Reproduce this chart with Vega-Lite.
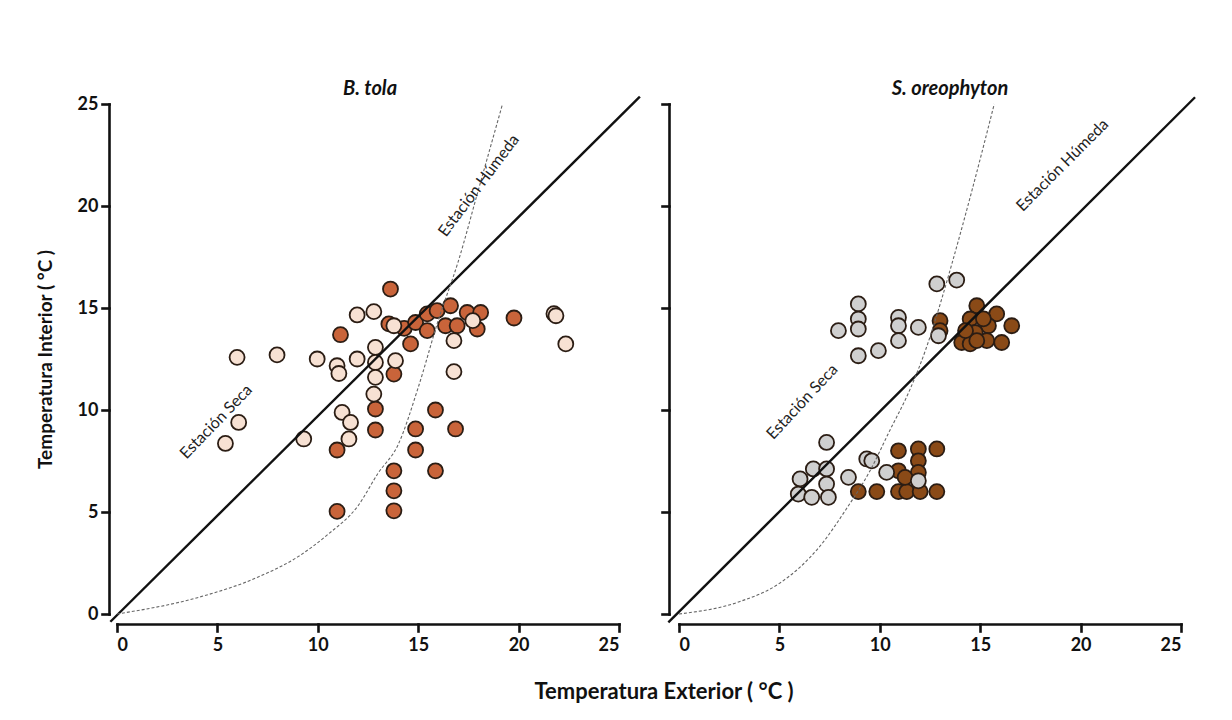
{
  "$schema": "https://vega.github.io/schema/vega-lite/v6.json",
  "background": "white",
  "padding": {"left": 36, "top": 78, "right": 10, "bottom": 10},
  "bounds": "flush",
  "spacing": 60,
  "title": {
    "text": "Temperatura  Exterior  ( °C )",
    "orient": "bottom",
    "anchor": "middle",
    "dx": 46,
    "offset": 28,
    "font": "Lato",
    "fontSize": 22,
    "fontWeight": "bold",
    "fontStyle": "normal",
    "color": "#111111"
  },
  "datasets": {
    "puntos": [
      {"sp": "B. tola", "est": "Húmeda", "ext": 13.62, "int": 15.93},
      {"sp": "B. tola", "est": "Húmeda", "ext": 11.13, "int": 13.69},
      {"sp": "B. tola", "est": "Húmeda", "ext": 13.54, "int": 14.22},
      {"sp": "B. tola", "est": "Húmeda", "ext": 13.79, "int": 11.76},
      {"sp": "B. tola", "est": "Húmeda", "ext": 12.87, "int": 10.05},
      {"sp": "B. tola", "est": "Húmeda", "ext": 12.87, "int": 9.02},
      {"sp": "B. tola", "est": "Húmeda", "ext": 10.96, "int": 8.04},
      {"sp": "B. tola", "est": "Húmeda", "ext": 10.96, "int": 5.03},
      {"sp": "B. tola", "est": "Húmeda", "ext": 13.79, "int": 7.02},
      {"sp": "B. tola", "est": "Húmeda", "ext": 13.79, "int": 6.04},
      {"sp": "B. tola", "est": "Húmeda", "ext": 13.79, "int": 5.06},
      {"sp": "B. tola", "est": "Húmeda", "ext": 14.62, "int": 13.24},
      {"sp": "B. tola", "est": "Húmeda", "ext": 14.3, "int": 14.0},
      {"sp": "B. tola", "est": "Húmeda", "ext": 14.87, "int": 14.29},
      {"sp": "B. tola", "est": "Húmeda", "ext": 15.45, "int": 14.71},
      {"sp": "B. tola", "est": "Húmeda", "ext": 15.94, "int": 14.87},
      {"sp": "B. tola", "est": "Húmeda", "ext": 16.61, "int": 15.11},
      {"sp": "B. tola", "est": "Húmeda", "ext": 17.44, "int": 14.78},
      {"sp": "B. tola", "est": "Húmeda", "ext": 18.11, "int": 14.78},
      {"sp": "B. tola", "est": "Húmeda", "ext": 15.45, "int": 13.89},
      {"sp": "B. tola", "est": "Húmeda", "ext": 16.36, "int": 14.13},
      {"sp": "B. tola", "est": "Húmeda", "ext": 16.94, "int": 14.13},
      {"sp": "B. tola", "est": "Húmeda", "ext": 17.94, "int": 13.97},
      {"sp": "B. tola", "est": "Húmeda", "ext": 19.77, "int": 14.51},
      {"sp": "B. tola", "est": "Húmeda", "ext": 15.86, "int": 10.0},
      {"sp": "B. tola", "est": "Húmeda", "ext": 14.87, "int": 9.07},
      {"sp": "B. tola", "est": "Húmeda", "ext": 16.86, "int": 9.07},
      {"sp": "B. tola", "est": "Húmeda", "ext": 14.87, "int": 8.04},
      {"sp": "B. tola", "est": "Húmeda", "ext": 15.86, "int": 7.02},
      {"sp": "B. tola", "est": "Seca", "ext": 5.4, "int": 8.36},
      {"sp": "B. tola", "est": "Seca", "ext": 6.06, "int": 9.39},
      {"sp": "B. tola", "est": "Seca", "ext": 5.98, "int": 12.58},
      {"sp": "B. tola", "est": "Seca", "ext": 7.97, "int": 12.7},
      {"sp": "B. tola", "est": "Seca", "ext": 9.3, "int": 8.58},
      {"sp": "B. tola", "est": "Seca", "ext": 9.97, "int": 12.5},
      {"sp": "B. tola", "est": "Seca", "ext": 10.96, "int": 12.17},
      {"sp": "B. tola", "est": "Seca", "ext": 11.05, "int": 11.79},
      {"sp": "B. tola", "est": "Seca", "ext": 11.21, "int": 9.88},
      {"sp": "B. tola", "est": "Seca", "ext": 11.63, "int": 9.39},
      {"sp": "B. tola", "est": "Seca", "ext": 11.55, "int": 8.58},
      {"sp": "B. tola", "est": "Seca", "ext": 11.96, "int": 12.5},
      {"sp": "B. tola", "est": "Seca", "ext": 11.96, "int": 14.66},
      {"sp": "B. tola", "est": "Seca", "ext": 12.79, "int": 14.82},
      {"sp": "B. tola", "est": "Seca", "ext": 12.87, "int": 13.07},
      {"sp": "B. tola", "est": "Seca", "ext": 12.87, "int": 12.33},
      {"sp": "B. tola", "est": "Seca", "ext": 12.87, "int": 11.6},
      {"sp": "B. tola", "est": "Seca", "ext": 12.79, "int": 10.78},
      {"sp": "B. tola", "est": "Seca", "ext": 13.79, "int": 14.13},
      {"sp": "B. tola", "est": "Seca", "ext": 13.87, "int": 12.42},
      {"sp": "B. tola", "est": "Seca", "ext": 17.72, "int": 14.38},
      {"sp": "B. tola", "est": "Seca", "ext": 16.78, "int": 13.4},
      {"sp": "B. tola", "est": "Seca", "ext": 16.78, "int": 11.88},
      {"sp": "B. tola", "est": "Seca", "ext": 21.76, "int": 14.72},
      {"sp": "B. tola", "est": "Seca", "ext": 21.86, "int": 14.62},
      {"sp": "B. tola", "est": "Seca", "ext": 22.35, "int": 13.24},
      {"sp": "S. oreophyton", "est": "Húmeda", "ext": 10.93, "int": 8.0},
      {"sp": "S. oreophyton", "est": "Húmeda", "ext": 11.92, "int": 8.09},
      {"sp": "S. oreophyton", "est": "Húmeda", "ext": 12.84, "int": 8.09},
      {"sp": "S. oreophyton", "est": "Húmeda", "ext": 11.92, "int": 7.51},
      {"sp": "S. oreophyton", "est": "Húmeda", "ext": 10.93, "int": 7.02},
      {"sp": "S. oreophyton", "est": "Húmeda", "ext": 11.92, "int": 6.94},
      {"sp": "S. oreophyton", "est": "Húmeda", "ext": 8.93, "int": 6.0},
      {"sp": "S. oreophyton", "est": "Húmeda", "ext": 9.85, "int": 6.0},
      {"sp": "S. oreophyton", "est": "Húmeda", "ext": 10.93, "int": 6.0},
      {"sp": "S. oreophyton", "est": "Húmeda", "ext": 11.34, "int": 6.0},
      {"sp": "S. oreophyton", "est": "Húmeda", "ext": 12.01, "int": 6.0},
      {"sp": "S. oreophyton", "est": "Húmeda", "ext": 12.84, "int": 6.0},
      {"sp": "S. oreophyton", "est": "Húmeda", "ext": 11.26, "int": 6.7},
      {"sp": "S. oreophyton", "est": "Húmeda", "ext": 13.0, "int": 14.38},
      {"sp": "S. oreophyton", "est": "Húmeda", "ext": 13.0, "int": 13.89},
      {"sp": "S. oreophyton", "est": "Húmeda", "ext": 14.83, "int": 15.11},
      {"sp": "S. oreophyton", "est": "Húmeda", "ext": 14.5, "int": 14.46},
      {"sp": "S. oreophyton", "est": "Húmeda", "ext": 15.82, "int": 14.71},
      {"sp": "S. oreophyton", "est": "Húmeda", "ext": 16.57, "int": 14.13},
      {"sp": "S. oreophyton", "est": "Húmeda", "ext": 15.41, "int": 14.13},
      {"sp": "S. oreophyton", "est": "Húmeda", "ext": 14.75, "int": 13.8},
      {"sp": "S. oreophyton", "est": "Húmeda", "ext": 14.08, "int": 13.31},
      {"sp": "S. oreophyton", "est": "Húmeda", "ext": 14.5, "int": 13.24},
      {"sp": "S. oreophyton", "est": "Húmeda", "ext": 15.33, "int": 13.4},
      {"sp": "S. oreophyton", "est": "Húmeda", "ext": 16.07, "int": 13.31},
      {"sp": "S. oreophyton", "est": "Húmeda", "ext": 14.83, "int": 13.4},
      {"sp": "S. oreophyton", "est": "Húmeda", "ext": 14.27, "int": 13.89},
      {"sp": "S. oreophyton", "est": "Húmeda", "ext": 15.16, "int": 14.47},
      {"sp": "S. oreophyton", "est": "Seca", "ext": 8.93, "int": 15.2},
      {"sp": "S. oreophyton", "est": "Seca", "ext": 8.93, "int": 14.46},
      {"sp": "S. oreophyton", "est": "Seca", "ext": 8.93, "int": 13.97},
      {"sp": "S. oreophyton", "est": "Seca", "ext": 7.94, "int": 13.89},
      {"sp": "S. oreophyton", "est": "Seca", "ext": 8.93, "int": 12.66},
      {"sp": "S. oreophyton", "est": "Seca", "ext": 9.93, "int": 12.91},
      {"sp": "S. oreophyton", "est": "Seca", "ext": 10.93, "int": 14.54},
      {"sp": "S. oreophyton", "est": "Seca", "ext": 10.93, "int": 14.13},
      {"sp": "S. oreophyton", "est": "Seca", "ext": 10.93, "int": 13.4},
      {"sp": "S. oreophyton", "est": "Seca", "ext": 11.92, "int": 14.05},
      {"sp": "S. oreophyton", "est": "Seca", "ext": 12.84, "int": 16.18},
      {"sp": "S. oreophyton", "est": "Seca", "ext": 13.83, "int": 16.37},
      {"sp": "S. oreophyton", "est": "Seca", "ext": 12.92, "int": 13.64},
      {"sp": "S. oreophyton", "est": "Seca", "ext": 7.35, "int": 8.41},
      {"sp": "S. oreophyton", "est": "Seca", "ext": 6.69, "int": 7.11},
      {"sp": "S. oreophyton", "est": "Seca", "ext": 7.35, "int": 7.11},
      {"sp": "S. oreophyton", "est": "Seca", "ext": 6.03, "int": 6.62},
      {"sp": "S. oreophyton", "est": "Seca", "ext": 7.35, "int": 6.37},
      {"sp": "S. oreophyton", "est": "Seca", "ext": 5.94, "int": 5.88},
      {"sp": "S. oreophyton", "est": "Seca", "ext": 6.61, "int": 5.72},
      {"sp": "S. oreophyton", "est": "Seca", "ext": 7.44, "int": 5.72},
      {"sp": "S. oreophyton", "est": "Seca", "ext": 8.44, "int": 6.7},
      {"sp": "S. oreophyton", "est": "Seca", "ext": 9.35, "int": 7.6},
      {"sp": "S. oreophyton", "est": "Seca", "ext": 9.6, "int": 7.51},
      {"sp": "S. oreophyton", "est": "Seca", "ext": 10.34, "int": 6.94},
      {"sp": "S. oreophyton", "est": "Seca", "ext": 11.92, "int": 6.53}
    ],
    "curvas": [
      {"sp": "B. tola", "ext": 0, "int": 0},
      {"sp": "B. tola", "ext": 4, "int": 0.8},
      {"sp": "B. tola", "ext": 7, "int": 1.8},
      {"sp": "B. tola", "ext": 9, "int": 2.8},
      {"sp": "B. tola", "ext": 10.5, "int": 3.9},
      {"sp": "B. tola", "ext": 12, "int": 5.3},
      {"sp": "B. tola", "ext": 13, "int": 6.9},
      {"sp": "B. tola", "ext": 14, "int": 8.3},
      {"sp": "B. tola", "ext": 15, "int": 11.1},
      {"sp": "B. tola", "ext": 16, "int": 14.4},
      {"sp": "B. tola", "ext": 17, "int": 17.3},
      {"sp": "B. tola", "ext": 18, "int": 20.8},
      {"sp": "B. tola", "ext": 19.2, "int": 25},
      {"sp": "S. oreophyton", "ext": 0, "int": 0},
      {"sp": "S. oreophyton", "ext": 3, "int": 0.6},
      {"sp": "S. oreophyton", "ext": 5, "int": 1.5},
      {"sp": "S. oreophyton", "ext": 7, "int": 3.3},
      {"sp": "S. oreophyton", "ext": 8.3, "int": 5.1},
      {"sp": "S. oreophyton", "ext": 9.5, "int": 7.0},
      {"sp": "S. oreophyton", "ext": 10.5, "int": 9.0},
      {"sp": "S. oreophyton", "ext": 11.5, "int": 11.0},
      {"sp": "S. oreophyton", "ext": 12.3, "int": 13.0},
      {"sp": "S. oreophyton", "ext": 13.1, "int": 15.5},
      {"sp": "S. oreophyton", "ext": 13.6, "int": 17.2},
      {"sp": "S. oreophyton", "ext": 14.6, "int": 20.8},
      {"sp": "S. oreophyton", "ext": 15.7, "int": 25}
    ],
    "diagonales": [
      {"sp": "B. tola", "ext": -0.33, "int": -0.38},
      {"sp": "B. tola", "ext": 26.04, "int": 25.36},
      {"sp": "S. oreophyton", "ext": -0.53, "int": -0.41},
      {"sp": "S. oreophyton", "ext": 25.7, "int": 25.33}
    ],
    "rotulos": [
      {"sp": "B. tola", "id": "seca", "ext": 4.94, "int": 9.42, "texto": "Estación Seca"},
      {"sp": "B. tola", "id": "humeda", "ext": 18.02, "int": 21.0, "texto": "Estación Húmeda"},
      {"sp": "S. oreophyton", "id": "seca", "ext": 6.14, "int": 10.4, "texto": "Estación Seca"},
      {"sp": "S. oreophyton", "id": "humeda", "ext": 19.1, "int": 22.0, "texto": "Estación Húmeda"}
    ]
  },
  "resolve": {"scale": {"fill": "independent"}},
  "config": {
    "view": {"stroke": null},
    "font": "Lato",
    "axis": {
      "grid": false,
      "domainColor": "#111111",
      "domainWidth": 2.6,
      "domainCap": "square",
      "tickColor": "#111111",
      "tickWidth": 2.6,
      "tickSize": 7,
      "tickCap": "square",
      "labelFont": "Lato",
      "labelFontSize": 18,
      "labelFontWeight": "bold",
      "labelColor": "#111111",
      "titleFont": "Lato",
      "titleFontSize": 19,
      "titleFontWeight": "bold",
      "titleColor": "#111111"
    },
    "title": {
      "font": "Lato",
      "fontSize": 20,
      "fontWeight": "bold",
      "fontStyle": "italic",
      "color": "#111111",
      "anchor": "middle",
      "offset": -7
    }
  },
  "hconcat": [
    {
      "width": 502,
      "height": 510,
      "title": {"text": "B. tola", "dx": 2},
      "layer": [
        {
          "data": {"name": "puntos"},
          "transform": [{"filter": "datum.sp === 'B. tola'"}],
          "mark": {"type": "point", "filled": true, "size": 225, "stroke": "#2b1d14", "strokeWidth": 1.8, "opacity": 1, "clip": false},
          "encoding": {
            "x": {"field": "ext", "type": "quantitative", "scale": {"domain": [0, 25], "nice": false, "zero": false}, "axis": {"title": null, "values": [0, 5, 10, 15, 20, 25], "offset": 10, "labelPadding": 5}},
            "y": {"field": "int", "type": "quantitative", "scale": {"domain": [0, 25], "nice": false, "zero": false}, "axis": {"title": "Temperatura Interior ( °C )", "titlePadding": 22, "values": [0, 5, 10, 15, 20, 25], "offset": 8, "labelPadding": 4}},
            "fill": {"field": "est", "type": "nominal", "scale": {"domain": ["Húmeda", "Seca"], "range": ["#c9643a", "#f7e1d3"]}, "legend": null},
            "order": {"field": "est", "type": "nominal", "sort": "ascending"}
          }
        },
        {
          "data": {"name": "diagonales"},
          "transform": [{"filter": "datum.sp === 'B. tola'"}],
          "mark": {"type": "line", "color": "#111111", "strokeWidth": 2.4, "clip": false},
          "encoding": {
            "x": {"field": "ext", "type": "quantitative"},
            "y": {"field": "int", "type": "quantitative"}
          }
        },
        {
          "data": {"name": "curvas"},
          "transform": [{"filter": "datum.sp === 'B. tola'"}],
          "mark": {"type": "line", "color": "#666666", "strokeWidth": 1.1, "strokeDash": [3, 2], "interpolate": "monotone", "clip": false},
          "encoding": {
            "x": {"field": "ext", "type": "quantitative"},
            "y": {"field": "int", "type": "quantitative"}
          }
        },
        {
          "data": {"name": "rotulos"},
          "transform": [{"filter": "datum.sp === 'B. tola' && datum.id === 'seca'"}],
          "mark": {"type": "text", "angle": 314, "fontSize": 16, "font": "Lato", "color": "#222222"},
          "encoding": {
            "x": {"field": "ext", "type": "quantitative"},
            "y": {"field": "int", "type": "quantitative"},
            "text": {"field": "texto"}
          }
        },
        {
          "data": {"name": "rotulos"},
          "transform": [{"filter": "datum.sp === 'B. tola' && datum.id === 'humeda'"}],
          "mark": {"type": "text", "angle": 307, "fontSize": 16, "font": "Lato", "color": "#222222"},
          "encoding": {
            "x": {"field": "ext", "type": "quantitative"},
            "y": {"field": "int", "type": "quantitative"},
            "text": {"field": "texto"}
          }
        }
      ]
    },
    {
      "width": 502,
      "height": 510,
      "title": {"text": "S. oreophyton", "dx": 20},
      "layer": [
        {
          "data": {"name": "puntos"},
          "transform": [{"filter": "datum.sp === 'S. oreophyton'"}],
          "mark": {"type": "point", "filled": true, "size": 225, "stroke": "#2b1d14", "strokeWidth": 1.8, "opacity": 1, "clip": false},
          "encoding": {
            "x": {"field": "ext", "type": "quantitative", "scale": {"domain": [0, 25], "nice": false, "zero": false}, "axis": {"title": null, "values": [0, 5, 10, 15, 20, 25], "offset": 10, "labelPadding": 5}},
            "y": {"field": "int", "type": "quantitative", "scale": {"domain": [0, 25], "nice": false, "zero": false}, "axis": {"title": null, "labels": false, "values": [0, 5, 10, 15, 20, 25], "offset": 10}},
            "fill": {"field": "est", "type": "nominal", "scale": {"domain": ["Húmeda", "Seca"], "range": ["#8a4a17", "#cfcfcf"]}, "legend": null},
            "order": {"field": "est", "type": "nominal", "sort": "ascending"}
          }
        },
        {
          "data": {"name": "diagonales"},
          "transform": [{"filter": "datum.sp === 'S. oreophyton'"}],
          "mark": {"type": "line", "color": "#111111", "strokeWidth": 2.4, "clip": false},
          "encoding": {
            "x": {"field": "ext", "type": "quantitative"},
            "y": {"field": "int", "type": "quantitative"}
          }
        },
        {
          "data": {"name": "curvas"},
          "transform": [{"filter": "datum.sp === 'S. oreophyton'"}],
          "mark": {"type": "line", "color": "#666666", "strokeWidth": 1.1, "strokeDash": [3, 2], "interpolate": "monotone", "clip": false},
          "encoding": {
            "x": {"field": "ext", "type": "quantitative"},
            "y": {"field": "int", "type": "quantitative"}
          }
        },
        {
          "data": {"name": "rotulos"},
          "transform": [{"filter": "datum.sp === 'S. oreophyton' && datum.id === 'seca'"}],
          "mark": {"type": "text", "angle": 313, "fontSize": 16, "font": "Lato", "color": "#222222"},
          "encoding": {
            "x": {"field": "ext", "type": "quantitative"},
            "y": {"field": "int", "type": "quantitative"},
            "text": {"field": "texto"}
          }
        },
        {
          "data": {"name": "rotulos"},
          "transform": [{"filter": "datum.sp === 'S. oreophyton' && datum.id === 'humeda'"}],
          "mark": {"type": "text", "angle": 315, "fontSize": 16, "font": "Lato", "color": "#222222"},
          "encoding": {
            "x": {"field": "ext", "type": "quantitative"},
            "y": {"field": "int", "type": "quantitative"},
            "text": {"field": "texto"}
          }
        }
      ]
    }
  ]
}
